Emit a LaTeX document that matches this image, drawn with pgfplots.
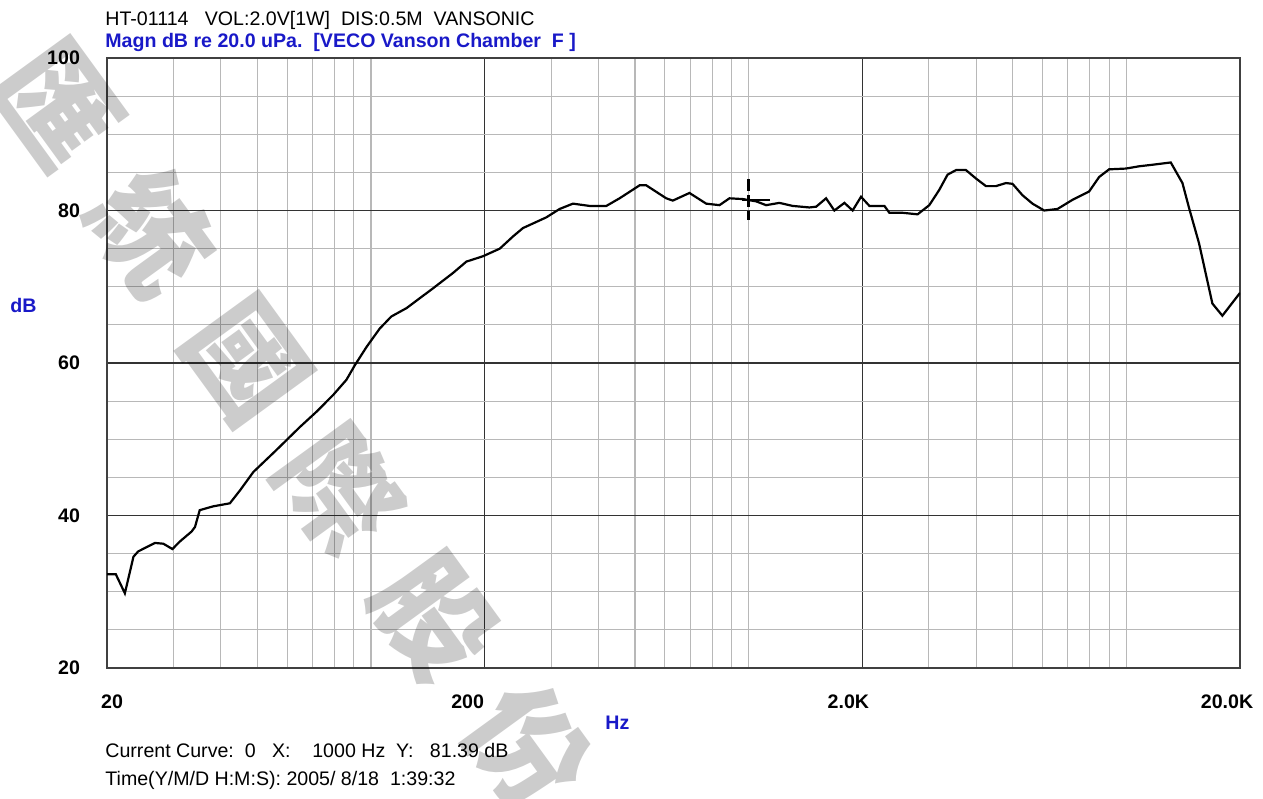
\documentclass[border=0pt]{standalone}
\usepackage{pgfplots}
\pgfplotsset{compat=1.18}
\usepackage{fontspec}
\setmainfont{Liberation Sans}
\newfontfamily\cjk{Noto Sans CJK TC}
\definecolor{lblue}{RGB}{25,25,200}
\begin{document}
\begin{tikzpicture}
\path[use as bounding box] (0pt,0pt) rectangle (631.5pt,399pt);
\begin{axis}[
  at={(53.5pt,65pt)}, anchor=south west,
  scale only axis, width=566.5pt, height=305pt,
  xmode=log, xmin=20, xmax=20000, ymin=20, ymax=100,
  /pgf/number format/assume math mode=true,
  xtick={20,200,2000,20000},
  xticklabels={\hspace*{5pt}20, 200\hspace*{17pt}, 2.0K\hspace*{14pt}, 20.0K\hspace*{13pt}},
  minor xtick={30,40,50,60,70,80,90,100,300,400,500,600,700,800,900,1000,3000,4000,5000,6000,7000,8000,9000,10000},
  ytick={20,40,60,80,100},
  yticklabels={20,40,60,80,100},
  minor ytick={25,30,35,45,50,55,65,70,75,85,90,95},
  grid=both,
  major grid style={black!80, line width=0.7pt},
  minor grid style={black!28, line width=0.55pt},
  axis line style={black!75, line width=0.9pt},
  tick style={draw=none},
  ticklabel style={font=\fontsize{9.8pt}{11pt}\selectfont\bfseries},
  xticklabel style={anchor=north, yshift=-10pt},
  yticklabel style={anchor=east, xshift=-10pt},
]
\addplot[black, line width=1.1pt] coordinates {
(20.0,32.3) (21.1,32.3) (22.3,29.8) (23.5,34.6) (24.2,35.3) (26.8,36.4) (28.2,36.3) (29.8,35.6)
(31.2,36.6) (33.5,37.9) (34.2,38.5) (35.2,40.7) (38.2,41.2) (42.3,41.6) (45.0,43.3) (48.8,45.7)
(56.2,48.6) (64.8,51.6) (71.7,53.6) (79.4,55.8) (86.1,57.8) (90.6,59.7) (97.3,62.1) (105.4,64.5)
(113.2,66.1) (124.2,67.2) (146.0,69.8) (164.8,71.8) (178.9,73.3) (197.9,74.0) (219.3,75.0)
(237.7,76.6) (252.6,77.7) (291.2,79.1) (315.8,80.2) (342.6,80.9) (379.2,80.6) (419.8,80.6)
(455.2,81.6) (514.2,83.3) (535.6,83.3) (605,81.6) (629.8,81.3) (697,82.3) (771.8,80.9)
(837,80.7) (889.4,81.6) (964.8,81.5) (1046.8,81.2) (1112,80.7) (1206,81.0) (1308,80.6)
(1448,80.4) (1509,80.5) (1603,81.6) (1686,80.0) (1793,81.0) (1885,80.0) (1984,81.8)
(2088,80.6) (2288,80.6) (2358,79.7) (2556,79.7) (2801,79.5) (3008,80.7) (3196,82.7)
(3362,84.7) (3540,85.3) (3762,85.3) (3998,84.2) (4249,83.2) (4515,83.2) (4799,83.6)
(4996,83.5) (5310,82.0) (5643,80.9) (6060,80.0) (6572,80.2) (7201,81.4) (7973,82.5)
(8473,84.4) (9004,85.4) (9973,85.5) (10812,85.8) (11722,86.0) (13112,86.3) (14078,83.6)
(14664,80.3) (15578,75.7) (16898,67.8) (17958,66.2) (20000,69.2)
};
\addplot[black, line width=1.2pt, dash pattern=on 6pt off 2pt] coordinates {(1000,84.1) (1000,78.7)};
\addplot[black, line width=0.9pt] coordinates {(960,81.39) (1140,81.39)};
\end{axis}
\begin{scope}[x=0.5pt,y=0.5pt]
\node[anchor=base west, inner sep=0pt, font=\fontsize{9.8pt}{11pt}\selectfont] at (105,772.5) {HT-01114\ \ \ VOL:2.0V[1W]\ \ DIS:0.5M\ \ VANSONIC};
\node[anchor=base west, inner sep=0pt, text=lblue, font=\fontsize{9.8pt}{11pt}\selectfont\bfseries] at (105,750) {Magn dB re 20.0 uPa.\ \ [VECO Vanson Chamber\ \ F ]};
\node[anchor=base west, inner sep=0pt, text=lblue, font=\fontsize{9.8pt}{11pt}\selectfont\bfseries] at (10,485) {dB};
\node[anchor=base west, inner sep=0pt, text=lblue, font=\fontsize{9.8pt}{11pt}\selectfont\bfseries] at (605,69) {Hz};
\node[anchor=base west, inner sep=0pt, font=\fontsize{9.8pt}{11pt}\selectfont] at (105,41) {Current Curve:\ \ 0\ \ \ X:\ \ \ \ 1000 Hz\ \ Y:\ \ \ 81.39 dB};
\node[anchor=base west, inner sep=0pt, font=\fontsize{9.8pt}{11pt}\selectfont] at (105,13) {Time(Y/M/D H:M:S): 2005/ 8/18\ \ 1:39:32};
\foreach \ch/\px/\py in {匯/58/104, 統/152/232.5, 國/246/361, 際/340/489.5, 股/434/618, 份/528/746.5}{
  \node[rotate=-54, text=black, text opacity=0.2, inner sep=0pt, font=\cjk\bfseries\fontsize{58pt}{58pt}\selectfont] at (\px,798-\py) {\ch};
}
\end{scope}
\end{tikzpicture}
\end{document}
